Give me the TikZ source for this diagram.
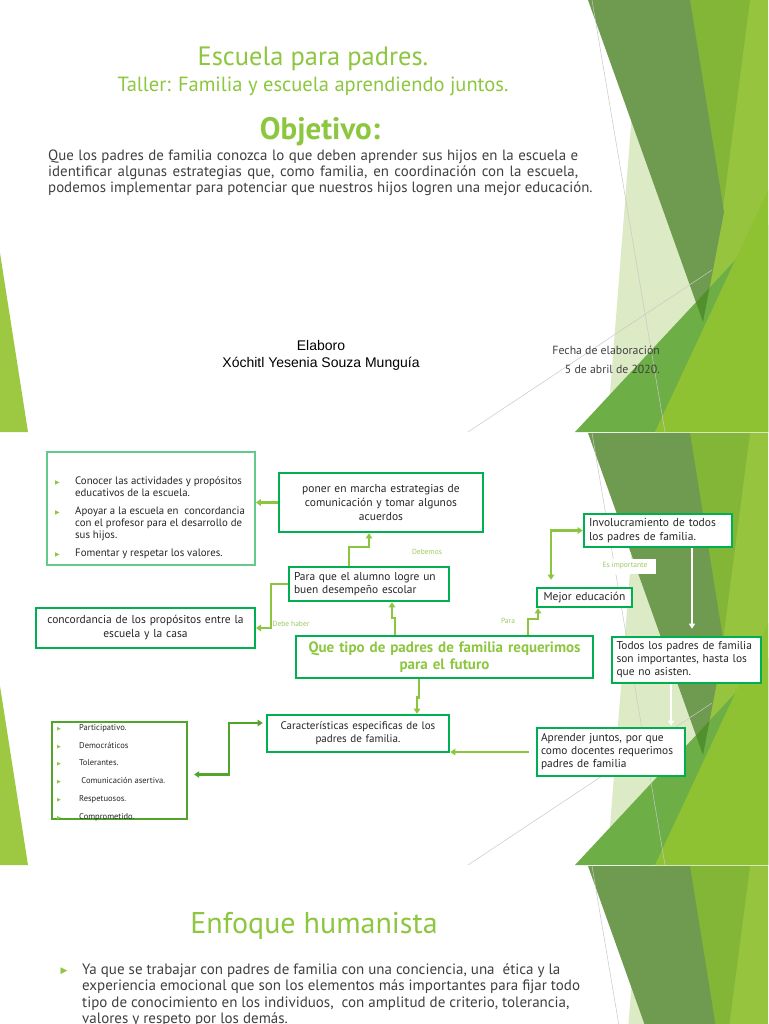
\documentclass[tikz,border=0pt]{standalone}
\usepackage{fontspec}
\setmainfont{PT Sans}
\newfontfamily\arialf{Liberation Sans}
\newfontfamily\symf{DejaVu Sans}
\usetikzlibrary{arrows.meta}
\definecolor{accent}{HTML}{8DC63F}
\definecolor{lblg}{HTML}{9CCB5E}
\definecolor{txt}{HTML}{404040}
\definecolor{boxtxt}{HTML}{262626}
\definecolor{boxg}{HTML}{00B050}
\definecolor{boxlt}{HTML}{62CB8C}
\definecolor{listg}{HTML}{52A52B}
\definecolor{connA}{HTML}{8CC63F}
\definecolor{darkol}{HTML}{6E9B4F}
\definecolor{midg}{HTML}{83B537}
\definecolor{ltg}{HTML}{96C43F}
\definecolor{paleg}{HTML}{DDEAC6}
\definecolor{botg}{HTML}{6DAE46}
\definecolor{ylg}{HTML}{8EC232}
\definecolor{deepg}{HTML}{51902C}
\definecolor{leftg}{HTML}{9DC942}
\definecolor{hairc}{HTML}{C8C8C8}
\newcommand{\facet}[1]{%
  \begin{scope}[shift={(0,#1)}]
  \clip (0,0) rectangle (768,432);
  \fill[ltg] (688,0) -- (768,0) -- (768,432) -- (640,432) -- cycle;
  \fill[midg] (690,0) -- (750,0) -- (722,215) -- cycle;
  \fill[paleg] (633,100) -- (708,330) -- (650,432) -- (607,432) -- cycle;
  \fill[darkol] (588,0) -- (690,0) -- (724,212) -- (703,322) -- cycle;
  \fill[botg] (575,432) -- (768,432) -- (768,225) -- cycle;
  \begin{scope}
    \clip (588,0) -- (690,0) -- (724,212) -- (703,322) -- cycle;
    \fill[deepg] (575,432) -- (768,432) -- (768,225) -- cycle;
  \end{scope}
  \fill[ylg] (655,432) -- (768,432) -- (768,190) -- cycle;
  \draw[hairc, line width=0.5pt] (592,0) -- (665,432);
  \draw[hairc, line width=0.5pt] (468,432) -- (712,270);
  \fill[leftg] (0,253) -- (28,432) -- (0,432) -- cycle;
  \end{scope}}
\newcommand{\bul}{{\symf\color{accent}\fontsize{6}{6}\selectfont ▶}}
\newcommand{\bulsm}{{\symf\color{accent}\fontsize{5}{5}\selectfont ▶}}
\tikzset{
  gbox/.style={draw=boxg, line width=2.6pt, fill=white, inner sep=0pt, text=boxtxt,
    font=\fontsize{11.5}{14}\selectfont},
  conn/.style={draw=connA, line width=2.4pt, -{Triangle[length=5pt,width=6.5pt]}},
  conn2/.style={draw=connA, line width=2.4pt, {Triangle[length=5pt,width=6.5pt]}-{Triangle[length=5pt,width=6.5pt]}},
  dconn/.style={draw=listg, line width=2.4pt, {Triangle[length=5pt,width=6.5pt]}-{Triangle[length=5pt,width=6.5pt]}},
  wconn/.style={draw=white, line width=1.8pt, -{Triangle[length=5pt,width=6pt]}},
  lbl/.style={text=lblg, font=\fontsize{7.5}{8}\selectfont, inner sep=0pt},
}
\begin{document}
\begin{tikzpicture}[x=1pt,y=-1pt]
\useasboundingbox (0,0) rectangle (768,1024);
\fill[white] (0,0) rectangle (768,1024);
\facet{0}
\facet{433}
\facet{866}
% ---------- slide 1
\node[text=accent, font=\fontsize{26.5}{30}\selectfont, anchor=base] (t1) at (313,66) {Escuela para padres.};
\node[text=accent, font=\fontsize{20.5}{24}\selectfont, anchor=base] (t2) at (313,92) {Taller: Familia y escuela aprendiendo juntos.};
\node[text=accent, font=\bfseries\fontsize{31}{34}\selectfont, anchor=base] (t3) at (320,140) {Objetivo:};
\node[text=txt, font=\fontsize{14.9}{16}\selectfont, anchor=north west, inner sep=0pt, text width=530pt, align=justify] (obj) at (48,150)
 {Que los padres de familia conozca lo que deben aprender sus hijos en la escuela e\linebreak identificar algunas estrategias que, como familia, en coordinación con la escuela,\linebreak \mbox{podemos implementar para potenciar que nuestros hijos logren una mejor educación.}};
\node[text=black, font=\arialf\fontsize{14}{17}\selectfont, align=center, anchor=north, inner sep=0pt] (elab) at (321,340) {Elaboro\\Xóchitl Yesenia Souza Munguía};
\node[text=txt, font=\fontsize{11.8}{19}\selectfont, align=right, anchor=north east, inner sep=0pt] (fecha) at (660,346) {Fecha de elaboración\\5 de abril de 2020.};
% ---------- slide 2
\node[draw=boxlt, line width=1.8pt, fill=white, minimum width=208pt, minimum height=113pt, inner sep=0pt] (bul1) at (151,508.5) {};
\node[text=boxtxt, font=\fontsize{10.8}{12}\selectfont, align=left, anchor=north west, inner sep=0pt] (bul1t) at (55,477)
 {\makebox[20pt][l]{\bul}Conocer las actividades y propósitos\\
  \hspace*{20pt}educativos de la escuela.\\[6pt]
  \makebox[20pt][l]{\bul}Apoyar a la escuela en\ \ concordancia\\
  \hspace*{20pt}con el profesor para el desarrollo de\\
  \hspace*{20pt}sus hijos.\\[6pt]
  \makebox[20pt][l]{\bul}Fomentar y respetar los valores.};
\node[gbox, minimum width=204pt, minimum height=59pt, text width=196pt, align=center] (poner) at (381,502.5)
 {poner en marcha estrategias de\\comunicación y tomar algunos\\acuerdos};
\node[gbox, minimum width=160pt, minimum height=34pt, text width=150pt, align=left, font=\fontsize{11.4}{13}\selectfont] (para) at (369,584)
 {Para que el alumno logre un\\buen desempeño escolar};
\node[gbox, line width=2pt, minimum width=219pt, minimum height=40pt, text width=211pt, align=center] (concord) at (145.5,628)
 {concordancia de los propósitos entre la\\escuela y la casa};
\node[gbox, minimum width=297pt, minimum height=42pt, text width=291pt, align=center, text=accent,
  font=\bfseries\fontsize{15}{17}\selectfont] (que) at (444.5,657)
 {Que tipo de padres de familia requerimos\\para el futuro};
\node[gbox, minimum width=148pt, minimum height=33pt, text width=138pt, align=left] (invol) at (658,530.5)
 {Involucramiento de todos\\los padres de familia.};
\node[gbox, minimum width=95pt, minimum height=19pt, text width=92pt, align=center] (mejor) at (584.5,597.5)
 {Mejor educación};
\node[gbox, minimum width=149pt, minimum height=46pt, text width=140pt, align=left, font=\fontsize{11.4}{13}\selectfont] (todos) at (686.5,660)
 {Todos los padres de familia\\son importantes, hasta los\\que no asisten.};
\node[gbox, minimum width=182pt, minimum height=37pt, text width=176pt, align=center, font=\fontsize{11}{13}\selectfont] (caract) at (358,733.5)
 {Características especificas de los\\padres de familia.};
\node[gbox, minimum width=148pt, minimum height=48pt, text width=140pt, align=left, font=\fontsize{11.4}{13}\selectfont] (aprender) at (611,752)
 {Aprender juntos, por que\\como docentes requerimos\\padres de familia};
\node[draw=listg, line width=2.3pt, fill=white, minimum width=135pt, minimum height=97pt, inner sep=0pt] (list2) at (119.5,770.5) {};
\node[text=boxtxt, font=\fontsize{8.5}{17.8}\selectfont, align=left, anchor=north west, inner sep=0pt] (list2t) at (57,724)
 {\makebox[22pt][l]{\bulsm}Participativo.\\
  \makebox[22pt][l]{\bulsm}Democráticos\\
  \makebox[22pt][l]{\bulsm}Tolerantes.\\
  \makebox[22pt][l]{\bulsm}\ Comunicación asertiva.\\
  \makebox[22pt][l]{\bulsm}Respetuosos.\\
  \makebox[22pt][l]{\bulsm}Comprometido.};
% labels
\node[lbl] (lb1) at (427,552) {Debemos};
\node[lbl] (lb2) at (291,624) {Debe haber};
\node[lbl] (lb3) at (508,621) {Para};
\node[lbl, fill=white, minimum width=62pt, minimum height=15pt] (lb4) at (625,566) {Es importante};
% connectors
\draw[conn] (poner.west) -- (bul1.east |- poner.west);
\draw[conn] ([xshift=-20pt]para.north) -- ++(0,-19) -| ([xshift=-12pt]poner.south);
\draw[conn] (para.west) -- ++(-17,0) |- (concord.east);
\draw[conn] ([xshift=-49.5pt]que.north) -- ++(0,-17) -| ([xshift=23pt]para.south);
\draw[conn] ([xshift=83.5pt]que.north) -- ++(0,-16) -| ([xshift=-46.5pt]mejor.south);
\draw[conn2] ([xshift=-33.5pt,yshift=7pt]mejor.north) |- (invol.west);
\coordinate (w1) at ([xshift=34pt]invol.south);
\draw[wconn, shorten >=7pt] (w1) -- (w1 |- todos.north);
\coordinate (w2) at ([xshift=-15.5pt]todos.south);
\draw[wconn, shorten >=0pt] (w2) -- ([yshift=1pt]w2 |- aprender.north);
\draw[conn] ([xshift=-25.5pt]que.south) -- ++(0,18) -| ([xshift=59pt]caract.north);
\draw[conn, shorten <=7pt] (aprender.west) -- (aprender.west -| caract.east);
\draw[dconn] ([xshift=-3pt,yshift=10.5pt]caract.west) -- ++(-34,0) |- ([xshift=6pt,yshift=-4pt]list2.east);
% ---------- slide 3
\node[text=accent, font=\fontsize{30}{33}\selectfont, anchor=base] (t4) at (314,933) {Enfoque humanista};
\node[text=accent, font=\symf\fontsize{9}{9}\selectfont, inner sep=0pt] (b3) at (64,971) {▶};
\node[text=txt, font=\fontsize{15}{16.5}\selectfont, align=left, anchor=north west, inner sep=0pt] (body3) at (82,963)
 {Ya que se trabajar con padres de familia con una conciencia, una\ \ ética y la\\
  experiencia emocional que son los elementos más importantes para fijar todo\\
  tipo de conocimiento en los individuos,\ \ con amplitud de criterio, tolerancia,\\
  valores y respeto por los demás.};
\end{tikzpicture}
\end{document}
